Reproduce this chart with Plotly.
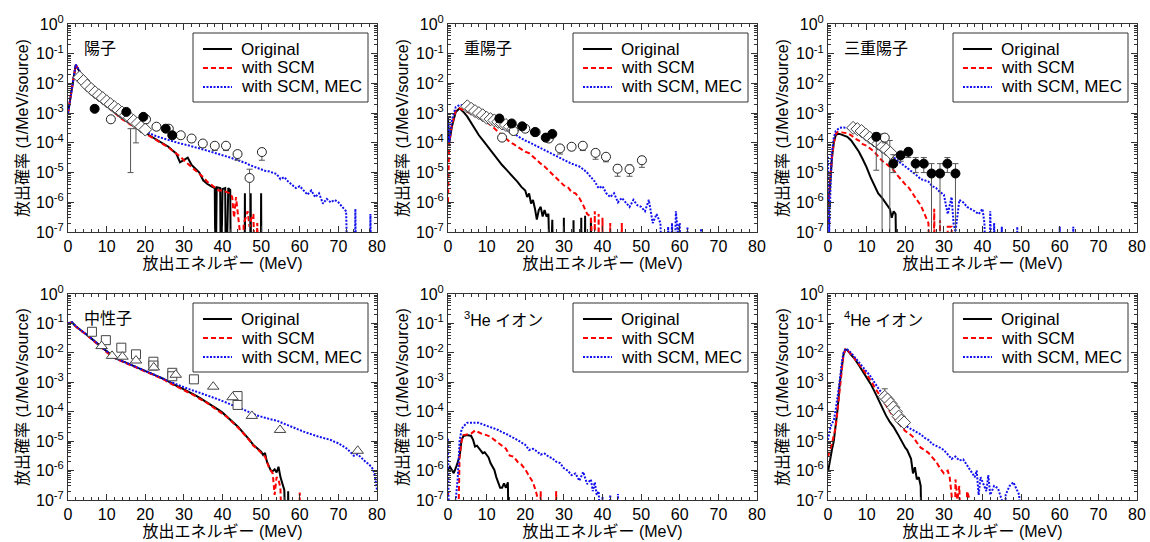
import plotly.graph_objects as go

# ---------------- data (energy MeV, probability 1/MeV/source) ----------------
proton_original = [(0,1.0e-3),(1,7.7e-3),(2,4.2e-2),(3,2.5e-2),(4,1.3e-2),(5,8.1e-3),(6,5.6e-3),(7,4.1e-3),(8,3.0e-3),(9,2.3e-3),(10,1.7e-3),(11,1.4e-3),(12,1.1e-3),(13,8.5e-4),(14,6.6e-4),(15,5.5e-4),(16,4.5e-4),(17,3.7e-4),(18,3.2e-4),(19,2.7e-4),(20,2.3e-4),(21,1.8e-4),(22,1.5e-4),(23,1.3e-4),(24,1.07e-4),(25,8.7e-5),(26,7.4e-5),(27,5.6e-5),(28,4.4e-5),(29,2.2e-5),(30,2.6e-5),(31,3.2e-5),(32,1.8e-5),(33,1.3e-5),(34,1.0e-5),(35,5.5e-6),(36,4.2e-6),(37,3.5e-6),(38,3.0e-6),(38.2,1e-9),(38.5,3.2e-6),(39.4,3.0e-6),(39.6,1e-9),(40,2.8e-6),(40.7,3.0e-6),(40.9,1e-9),(41.5,3.0e-6),(42,2.6e-6),(42.2,1e-9),(45.7,1e-9),(45.8,2.0e-6),(45.9,1e-9),(47.2,1e-9),(47.3,2.0e-6),(47.4,1e-9),(49.9,1e-9),(50,2.0e-6),(50.1,1e-9)]
proton_scm = [(0,1.0e-3),(1,7.7e-3),(2,4.2e-2),(3,2.5e-2),(4,1.3e-2),(5,8.0e-3),(6,5.5e-3),(7,4.0e-3),(8,3.0e-3),(9,2.3e-3),(10,1.7e-3),(11,1.35e-3),(12,1.05e-3),(13,8.0e-4),(14,6.3e-4),(15,5.2e-4),(16,4.2e-4),(17,3.5e-4),(18,3.0e-4),(19,2.5e-4),(20,2.1e-4),(21,1.7e-4),(22,1.45e-4),(23,1.2e-4),(24,1.0e-4),(25,8.5e-5),(26,7.0e-5),(27,5.5e-5),(28,4.5e-5),(29,3.5e-5),(30,2.6e-5),(31,2.0e-5),(32,1.6e-5),(33,1.2e-5),(34,9.0e-6),(35,7.0e-6),(36,5.0e-6),(37,4.0e-6),(38,3.0e-6),(39,2.5e-6),(40,2.5e-6),(41,2.2e-6),(42,2.0e-6),(42.5,1.5e-6),(43,3e-7),(43.5,1.5e-6),(44,3e-7),(44.5,1e-7),(45,1e-9),(45.5,2e-7),(46,3e-7),(46.5,5e-7),(47,1.5e-7),(47.5,3e-7),(48,4e-7),(48.5,1e-9),(49,2e-7),(49.5,1e-9)]
proton_mec = [(0,1.0e-3),(1,8.0e-3),(2,4.3e-2),(3,2.6e-2),(4,1.35e-2),(5,8.3e-3),(6,5.7e-3),(7,4.2e-3),(8,3.1e-3),(9,2.4e-3),(10,1.8e-3),(11,1.45e-3),(12,1.15e-3),(13,9.0e-4),(14,7.0e-4),(15,5.8e-4),(16,4.8e-4),(17,4.0e-4),(18,3.4e-4),(19,2.9e-4),(20,2.5e-4),(21,2.1e-4),(22,1.85e-4),(23,1.65e-4),(24,1.5e-4),(25,1.35e-4),(26,1.25e-4),(27,1.15e-4),(28,1.05e-4),(29,9.5e-5),(30,9.0e-5),(31,8.2e-5),(32,7.5e-5),(33,7.0e-5),(34,6.5e-5),(35,6.0e-5),(36,5.5e-5),(37,5.0e-5),(38,4.5e-5),(39,4.0e-5),(40,3.7e-5),(41,3.5e-5),(42,3.2e-5),(43,2.9e-5),(44,2.6e-5),(45,2.3e-5),(46,2.1e-5),(47,1.8e-5),(48,1.6e-5),(49,1.4e-5),(50,1.25e-5),(51,1.15e-5),(52,1.1e-5),(53,1.0e-5),(54,9.0e-6),(55,6.0e-6),(56,7.0e-6),(57,5.0e-6),(58,4.0e-6),(59,3.0e-6),(60,3.5e-6),(61,2.5e-6),(62,1.8e-6),(63,2.5e-6),(64,1.5e-6),(65,2.0e-6),(66,9.0e-7),(67,1.3e-6),(68,1.0e-6),(69,1.2e-6),(70,1.0e-6),(71,7.0e-7),(72,5.0e-7),(72.5,1e-9),(74.2,1e-9),(74.4,6.0e-7),(74.6,1e-9),(78.1,1e-9),(78.3,4.0e-7),(78.5,1e-9)]
proton_diamonds = [(3,1.6e-2),(4,1.2e-2),(5,8.5e-3),(6,6.5e-3),(7,5.0e-3),(8,4.0e-3),(9,3.2e-3),(10,2.5e-3),(11,2.0e-3),(12,1.6e-3),(13,1.3e-3),(14,1.05e-3),(15,8.5e-4),(16,7.0e-4),(17,5.5e-4),(18,4.5e-4),(19,3.5e-4),(20,2.8e-4)]
proton_filled = [(6.9,1.4e-3),(15.1,1.1e-3),(19.5,7.5e-4),(25.3,3.0e-4),(27.0,1.8e-4)]
proton_open = [(11.1,6.2e-4,4.8e-4,7.5e-4),(20.2,6.2e-4,4.8e-4,7.5e-4),(22.9,3.5e-4,2.7e-4,4.3e-4),(26.1,3.0e-4,2.3e-4,3.7e-4),(29.2,1.8e-4,1.4e-4,2.2e-4),(32.0,1.4e-4,1.05e-4,1.7e-4),(34.9,9.5e-5,7.0e-5,1.15e-4),(38.0,8.0e-5,5.5e-5,1.0e-4),(40.9,8.0e-5,5.5e-5,1.0e-4),(43.9,4.2e-5,2.6e-5,5.5e-5),(47.0,6.6e-6,1e-9,1.3e-5),(50.2,4.9e-5,2.6e-5,6.5e-5)]
proton_bars = [(16.2,3.0e-4,1.0e-5,3.0e-4),(17.6,2.5e-4,1.0e-4,3.0e-4)]

deuteron_original = [(0,7.6e-4),(0.3,9.5e-5),(1,3.5e-4),(2,1.1e-3),(3,1.45e-3),(4,1.1e-3),(5,7.6e-4),(6,4.7e-4),(7,2.8e-4),(8,1.8e-4),(9,1.23e-4),(10,8.3e-5),(11,5.6e-5),(12,3.8e-5),(13,2.6e-5),(14,1.8e-5),(15,1.3e-5),(16,9.3e-6),(17,7.1e-6),(18,4.9e-6),(19,3.3e-6),(20,2.5e-6),(20.5,1.5e-6),(21,2.0e-6),(21.5,9.0e-7),(22,1.2e-6),(22.5,6.2e-7),(23,2.6e-7),(23.5,5.5e-7),(24,7.0e-7),(24.5,3.3e-7),(25,5.5e-7),(25.5,3.3e-7),(26,4.1e-7),(26.5,1e-9),(27,2.6e-7),(27.3,1e-9),(29.9,1e-9),(30,3.0e-7),(30.1,1e-9),(32.4,1e-9),(32.5,2.5e-7),(32.6,1e-9),(34.4,1e-9),(34.5,3.0e-7),(34.6,1e-9),(35.4,1e-9),(35.5,3.5e-7),(35.6,1e-9),(36.9,1e-9),(37,3.0e-7),(37.1,1e-9)]
deuteron_scm = [(0,1e-6),(0.3,1e-4),(1,4e-4),(2,1.2e-3),(3,1.45e-3),(4,1.3e-3),(5,1.1e-3),(6,9.5e-4),(7,8.5e-4),(8,7.2e-4),(9,6.0e-4),(10,5.1e-4),(11,4.0e-4),(12,3.0e-4),(13,2.4e-4),(14,1.8e-4),(15,1.4e-4),(16,1.07e-4),(17,9e-5),(18,7.4e-5),(19,6e-5),(20,5e-5),(21,4.5e-5),(22,3.4e-5),(23,2.6e-5),(24,2e-5),(25,1.6e-5),(26,1.2e-5),(27,9e-6),(28,6.3e-6),(29,4.8e-6),(30,3.7e-6),(31,3.3e-6),(32,2.2e-6),(33,2.0e-6),(34,1.4e-6),(35,8e-7),(36,4.1e-7),(37,3.2e-7),(37.3,1e-9),(37.9,1e-9),(38,5e-7),(38.1,1e-9),(38.9,1e-9),(39,4e-7),(39.1,1e-9),(39.9,1e-9),(40,3e-7),(40.1,1e-9),(41.9,1e-9),(42,2e-7),(42.1,1e-9),(44.9,1e-9),(45,2e-7),(45.1,1e-9)]
deuteron_mec = [(0,6.6e-4),(0.3,1e-4),(1,6e-4),(2,1.6e-3),(3,1.9e-3),(4,1.8e-3),(5,1.5e-3),(6,1.3e-3),(7,1.1e-3),(8,9e-4),(9,7.5e-4),(10,6e-4),(11,5e-4),(12,4.3e-4),(13,3.6e-4),(14,3.2e-4),(15,2.8e-4),(16,2.4e-4),(17,2.1e-4),(18,1.7e-4),(19,1.4e-4),(20,1.2e-4),(21,1.05e-4),(22,9e-5),(23,7.5e-5),(24,6.5e-5),(25,5.5e-5),(26,4.8e-5),(27,4e-5),(28,3.5e-5),(29,3e-5),(30,2.6e-5),(31,2.3e-5),(32,2e-5),(33,1.8e-5),(34,1.6e-5),(35,1.3e-5),(36,1e-5),(37,7e-6),(38,5e-6),(39,3e-6),(40,3.5e-6),(41,2e-6),(42,1.5e-6),(43,2e-6),(44,1e-6),(45,1.4e-6),(46,1e-6),(47,7e-7),(48,1.2e-6),(49,8e-7),(50,7e-7),(51,5e-7),(52,1.2e-6),(53,2e-7),(54,4e-7),(55,2e-7),(55.5,1e-9),(56.5,1e-9),(57,1.5e-7),(57.5,1e-9),(58,2e-7),(58.5,1e-9),(59,5e-7),(59.5,1e-7),(60,2e-7),(60.3,1e-9),(61.9,1e-9),(62,1.5e-7),(62.1,1e-9),(65.4,1e-9),(65.5,1.3e-7),(65.6,1e-9)]
deuteron_diamonds = [(5,1.7e-3),(6,1.4e-3),(7,1.17e-3),(8,1.0e-3),(9,8.5e-4),(10,7.0e-4),(11,6.3e-4),(12,5.7e-4),(13,5.1e-4),(14,4.5e-4),(15,4.0e-4),(16,3.5e-4),(17,3.0e-4)]
deuteron_filled = [(13.3,6.6e-4),(16.5,4.5e-4),(19.2,3.6e-4),(22.5,2.3e-4),(25.3,1.5e-4),(27.0,2.0e-4)]
deuteron_open = [(14.0,1.5e-4,1.2e-4,1.8e-4),(17.0,2.5e-4,2.0e-4,3.0e-4),(20.0,3.0e-4,2.4e-4,3.6e-4),(22.7,2.3e-4,1.8e-4,2.8e-4),(26.1,1.4e-4,1.1e-4,1.7e-4),(29.0,6.5e-5,4.2e-5,8.0e-5),(32.0,7.4e-5,5.5e-5,9.0e-5),(34.9,8.0e-5,5.5e-5,1.0e-4),(38.2,4.6e-5,2.8e-5,5.8e-5),(40.9,3.4e-5,2.3e-5,4.3e-5),(43.9,1.35e-5,7.5e-6,1.8e-5),(47.0,1.3e-5,7.5e-6,1.8e-5),(50.2,2.6e-5,1.5e-5,3.5e-5)]

triton_original = [(0,1e-6),(0.5,3e-6),(1,3e-5),(1.5,1e-4),(2,1.8e-4),(2.5,2.0e-4),(3,2.0e-4),(4,1.8e-4),(5,1.6e-4),(6,1.2e-4),(7,8e-5),(8,5e-5),(9,2.8e-5),(10,1.5e-5),(11,7e-6),(12,3.5e-6),(13,2e-6),(14,1.4e-6),(15,9e-7),(16,6e-7),(16.5,3e-7),(17,5e-7),(17.5,4e-7),(17.8,1e-9)]
triton_scm = [(0,2e-7),(0.5,5e-6),(1,3e-5),(1.5,1e-4),(2,2e-4),(2.5,2.3e-4),(3,2.3e-4),(4,2.2e-4),(5,2.1e-4),(6,1.8e-4),(7,1.4e-4),(8,1.2e-4),(9,9e-5),(10,8e-5),(11,6.5e-5),(12,5e-5),(13,3.5e-5),(14,2.5e-5),(15,2e-5),(16,1.5e-5),(17,1.2e-5),(18,8e-6),(19,5.5e-6),(20,4e-6),(21,3e-6),(22,1.8e-6),(23,1.2e-6),(24,8e-7),(25,4e-7),(26,2e-7),(26.5,1e-9),(27.3,1e-9),(27.5,6e-7),(27.7,1e-9),(28.9,1e-9),(29,2.5e-7),(29.1,1e-9),(30.9,1e-9),(31,1.5e-7),(32,1.5e-7),(32.2,1e-9)]
triton_mec = [(0,3.4e-5),(0.3,1e-7),(0.7,5e-6),(1,5e-5),(1.5,1.5e-4),(2,2.5e-4),(3,3.2e-4),(4,3.3e-4),(5,3.2e-4),(6,2.8e-4),(7,2.4e-4),(8,2e-4),(9,1.6e-4),(10,1.3e-4),(11,1.05e-4),(12,8.5e-5),(13,6.5e-5),(14,5e-5),(15,4.5e-5),(16,4e-5),(17,3.3e-5),(18,2.5e-5),(19,2e-5),(20,1.6e-5),(21,1.3e-5),(22,1e-5),(23,8e-6),(24,6e-6),(25,5.5e-6),(26,5e-6),(27,3.5e-6),(28,3e-6),(29,2.2e-6),(30,1.8e-6),(31,4e-7),(32,1.5e-6),(32.5,2e-7),(33,1e-7),(34,1.2e-6),(35,1e-6),(36,7e-7),(37,6e-7),(38,5e-7),(39,4e-7),(40,6e-7),(40.5,2e-7),(41,1e-9),(41.8,1e-9),(42,5e-7),(42.5,1e-9),(42.8,1e-9),(43,2e-7),(43.5,1e-9),(44.9,1e-9),(45,1.5e-7),(45.1,1e-9),(48.9,1e-9),(49,1.5e-7),(49.1,1e-9),(59.9,1e-9),(60,1.5e-7),(60.1,1e-9),(63.4,1e-9),(63.5,1.5e-7),(63.6,1e-9)]
triton_diamonds = [(6.5,3.2e-4),(7.6,2.9e-4),(8.7,2.5e-4),(9.8,1.9e-4),(10.8,1.5e-4),(11.9,1.2e-4),(13.0,9.4e-5),(14.1,7.4e-5),(15.1,6.0e-5),(16.2,4.6e-5)]
triton_filled = [(12.5,1.6e-4,1.2e-5,2.2e-4),(16.9,2.0e-5,1.0e-5,4.0e-5),(18.8,3.8e-5,2.4e-5,5.0e-5),(20.8,5.0e-5,3.2e-5,6.5e-5),(22.7,2.0e-5,1.0e-5,3.2e-5),(24.8,2.0e-5,1.0e-5,3.2e-5),(26.8,9.3e-6,1e-9,2.0e-5),(29.0,9.3e-6,1e-9,2.0e-5),(30.9,2.0e-5,1.0e-5,3.2e-5),(33.0,9.3e-6,1e-9,2.0e-5)]
triton_open = [(14.7,1.5e-4,1.0e-4,1.9e-4)]
triton_bars = [(14.0,2.0e-4,1e-9,2.0e-4),(16.0,1.2e-4,1e-9,1.2e-4)]

neutron_original = [(0,0.1),(1,0.11),(2,8e-2),(3,6.5e-2),(4,5e-2),(5,4e-2),(6,3.1e-2),(7,2.4e-2),(8,1.85e-2),(9,1.4e-2),(10,1.1e-2),(11,8.5e-3),(12,6.9e-3),(13,6e-3),(14,5.3e-3),(15,4.7e-3),(16,4.1e-3),(17,3.6e-3),(18,3.1e-3),(19,2.7e-3),(20,2.4e-3),(21,2.15e-3),(22,1.9e-3),(23,1.65e-3),(24,1.45e-3),(25,1.25e-3),(26,1.05e-3),(27,9e-4),(28,7.7e-4),(29,6.7e-4),(30,5.8e-4),(31,5e-4),(32,4.2e-4),(33,3.6e-4),(34,3e-4),(35,2.5e-4),(36,2.1e-4),(37,1.7e-4),(38,1.4e-4),(39,1.15e-4),(40,9.3e-5),(41,7.2e-5),(42,5.5e-5),(43,4.2e-5),(44,3.1e-5),(45,2.2e-5),(46,1.6e-5),(47,1.1e-5),(48,7.4e-6),(49,5.8e-6),(50,4.4e-6),(50.5,3.4e-6),(51,4.0e-6),(51.5,2.0e-6),(52,1.35e-6),(52.5,1.0e-6),(53,9.5e-7),(53.5,1.1e-6),(54,8.6e-7),(54.5,1.35e-6),(55,6e-7),(55.5,3.7e-7),(56,2.2e-7),(56.5,1e-9),(56.9,1e-9),(57,2e-7),(57.2,1e-9)]
neutron_scm = [(0,0.1),(1,0.105),(2,7.8e-2),(3,6.3e-2),(4,4.9e-2),(5,3.9e-2),(6,3.0e-2),(7,2.3e-2),(8,1.8e-2),(9,1.35e-2),(10,1.05e-2),(11,8.2e-3),(12,6.7e-3),(13,5.8e-3),(14,5.1e-3),(15,4.5e-3),(16,3.9e-3),(17,3.5e-3),(18,3.0e-3),(19,2.6e-3),(20,2.3e-3),(21,2.05e-3),(22,1.8e-3),(23,1.6e-3),(24,1.4e-3),(25,1.2e-3),(26,1.0e-3),(27,8.6e-4),(28,7.4e-4),(29,6.4e-4),(30,5.5e-4),(31,4.7e-4),(32,4.0e-4),(33,3.4e-4),(34,2.8e-4),(35,2.4e-4),(36,2.0e-4),(37,1.6e-4),(38,1.3e-4),(39,1.1e-4),(40,8.8e-5),(41,6.9e-5),(42,5.2e-5),(43,4.0e-5),(44,2.9e-5),(45,2.1e-5),(46,1.5e-5),(47,1.05e-5),(48,7.0e-6),(49,5.5e-6),(50,4.0e-6),(51,3.0e-6),(52,1.3e-6),(53,8e-7),(53.5,1.5e-7),(54,6e-7),(54.5,5e-7),(55,2.5e-7),(55.5,1e-9),(59.9,1e-9),(60,1.8e-7),(60.1,1e-9)]
neutron_mec = [(0,0.1),(1,0.11),(2,8e-2),(3,6.5e-2),(4,5e-2),(5,4e-2),(6,3.1e-2),(7,2.4e-2),(8,1.85e-2),(9,1.4e-2),(10,1.1e-2),(11,8.5e-3),(12,6.9e-3),(13,6e-3),(14,5.3e-3),(15,4.7e-3),(16,4.1e-3),(17,3.6e-3),(18,3.1e-3),(19,2.7e-3),(20,2.4e-3),(21,2.15e-3),(22,1.9e-3),(23,1.65e-3),(24,1.45e-3),(25,1.25e-3),(26,1.1e-3),(27,9.5e-4),(28,8.3e-4),(29,7.5e-4),(30,6.8e-4),(31,6.1e-4),(32,5.5e-4),(33,5.0e-4),(34,4.6e-4),(35,4.1e-4),(36,3.7e-4),(37,3.3e-4),(38,3.0e-4),(39,2.6e-4),(40,2.3e-4),(41,2.0e-4),(42,1.8e-4),(43,1.6e-4),(44,1.4e-4),(45,1.25e-4),(46,1.1e-4),(47,9.5e-5),(48,8.1e-5),(49,7.4e-5),(50,6.8e-5),(51,6.2e-5),(52,5.6e-5),(53,5.3e-5),(54,5.0e-5),(55,4.4e-5),(56,3.8e-5),(57,3.4e-5),(58,3.0e-5),(59,2.7e-5),(60,2.4e-5),(61,2.1e-5),(62,1.9e-5),(63,1.7e-5),(64,1.6e-5),(65,1.4e-5),(66,1.3e-5),(67,1.2e-5),(68,1.1e-5),(69,9.5e-6),(70,8.5e-6),(71,7e-6),(72,5.8e-6),(73,4.4e-6),(74,3.2e-6),(75,3.6e-6),(76,2.6e-6),(77,2.0e-6),(78,1.6e-6),(79,1.1e-6),(79.5,6e-7),(80,2.2e-7)]
neutron_squares = [(6.2,5.2e-2),(9.8,2.7e-2),(13.8,1.5e-2),(17.6,8.9e-3),(22.1,5.0e-3),(22.1,3.7e-3),(27.0,2.1e-3),(27.0,1.6e-3),(32.6,1.26e-3),(43.9,3.4e-4),(43.9,1.7e-4)]
neutron_triangles = [(8.7,1.7e-2),(11.4,7.9e-3),(14.1,7.4e-3),(17.6,5.5e-3),(22.2,3.2e-3),(27.9,1.8e-3),(37.6,7.1e-4),(42.6,3.1e-4),(47.6,7.2e-5),(54.9,2.4e-5),(75.0,4.7e-6)]

he3_original = [(0,1.05e-6),(0.5,1.35e-6),(1,1.05e-6),(1.5,8.2e-7),(2,1.2e-6),(2.5,1.8e-6),(3,3e-6),(3.5,1.1e-5),(4,1.5e-5),(5,1.6e-5),(6,1.5e-5),(6.5,1.1e-5),(7,6.5e-6),(7.5,7e-6),(8,5.7e-6),(8.5,5e-6),(9,3.9e-6),(9.5,4.2e-6),(10,3.4e-6),(10.5,2.8e-6),(11,1.8e-6),(11.5,1.4e-6),(12,1.05e-6),(12.5,6e-7),(13,3.7e-7),(13.5,2.6e-7),(14,2.6e-7),(14.5,3.7e-7),(15,2.6e-7),(15.5,4e-7),(15.8,1e-9)]
he3_scm = [(0,2e-7),(0.3,1e-9),(2.5,1e-9),(2.8,3e-7),(3,3e-6),(3.5,1e-5),(4,1.6e-5),(5,1.7e-5),(6,1.8e-5),(7,2.3e-5),(8,2e-5),(9,1.7e-5),(10,1.6e-5),(11,1.4e-5),(12,1.1e-5),(13,9e-6),(14,7e-6),(15,5.5e-6),(16,3.2e-6),(17,3e-6),(18,2e-6),(19,1.6e-6),(20,1.1e-6),(21,6.5e-7),(22,4e-7),(22.5,2.5e-7),(23,1.5e-7),(23.5,1e-9),(23.8,1e-9),(24,2e-7),(24.3,1e-9),(27.8,1e-9),(28,2e-7),(28.3,1e-9)]
he3_mec = [(0,1.2e-5),(0.3,1e-9),(1.5,1e-9),(2,1e-7),(2.5,5e-7),(3,1e-5),(3.5,2.5e-5),(4,3.2e-5),(5,4.2e-5),(6,4.2e-5),(7,4.3e-5),(8,4.2e-5),(9,3.7e-5),(10,3.3e-5),(11,3e-5),(12,2.7e-5),(13,2.4e-5),(14,2e-5),(15,1.8e-5),(16,1.5e-5),(17,1.3e-5),(18,1.1e-5),(19,9e-6),(20,7.5e-6),(21,5e-6),(22,5.5e-6),(23,4.5e-6),(24,3.5e-6),(25,3.8e-6),(26,3e-6),(27,2.6e-6),(28,2e-6),(29,1.8e-6),(30,1.2e-6),(31,1e-6),(32,7e-7),(33,8e-7),(34,4.5e-7),(35,9e-7),(36,3.5e-7),(37,5e-7),(37.5,2e-7),(38,4e-7),(38.5,1.5e-7),(39,2e-7),(39.5,1e-9),(39.9,1e-9),(40,1.3e-7),(40.3,1e-9),(41.9,1e-9),(42,1.5e-7),(42.3,1e-9),(43.9,1e-9),(44,1.6e-7),(44.3,1e-9)]

he4_original = [(0,9e-7),(0.5,2.5e-6),(1,5e-6),(1.5,1e-5),(2,3e-5),(2.5,1.3e-4),(3,8e-4),(3.5,3e-3),(4,8.5e-3),(4.5,1.3e-2),(5,1.25e-2),(6,8.5e-3),(7,6e-3),(8,3.8e-3),(9,2.4e-3),(10,1.5e-3),(11,9e-4),(12,5e-4),(13,2.6e-4),(14,1.4e-4),(15,7.5e-5),(16,4.5e-5),(17,3e-5),(18,1.8e-5),(19,1e-5),(19.5,8e-6),(20,6e-6),(20.5,5e-6),(21,3.5e-6),(21.5,2.5e-6),(22,8e-7),(22.5,1.3e-6),(23,5e-7),(23.5,6e-7),(24,3e-7),(24.3,1e-9)]
he4_scm = [(0,3e-6),(1,8e-6),(2,3e-5),(2.5,1.2e-4),(3,7e-4),(3.5,3e-3),(4,8.5e-3),(4.5,1.3e-2),(5,1.25e-2),(6,9e-3),(7,6.2e-3),(8,4.2e-3),(9,2.8e-3),(10,1.8e-3),(11,1.2e-3),(12,7e-4),(13,4.3e-4),(14,2.6e-4),(15,1.6e-4),(16,9.5e-5),(17,6.5e-5),(18,4.5e-5),(19,3e-5),(20,2.2e-5),(21,1.8e-5),(22,1.4e-5),(23,9e-6),(24,6e-6),(25,5e-6),(26,4e-6),(27,2.8e-6),(28,2e-6),(29,1.2e-6),(30,8e-7),(31,1e-6),(31.5,6e-7),(32,1.5e-7),(32.5,1e-9),(32.8,1e-9),(33,5e-7),(33.5,1e-7),(34,3e-7),(34.5,1e-9),(35.8,1e-9),(36,2e-7),(36.5,1.2e-7),(37,1e-9)]
he4_mec = [(0,1.1e-5),(0.5,2.5e-5),(1,4e-5),(1.5,5e-5),(2,1.2e-4),(2.5,3e-4),(3,1e-3),(3.5,4e-3),(4,1e-2),(4.5,1.35e-2),(5,1.3e-2),(6,1e-2),(7,7e-3),(8,5e-3),(9,3.4e-3),(10,2.3e-3),(11,1.6e-3),(12,1e-3),(13,6.5e-4),(14,4e-4),(15,2.6e-4),(16,1.6e-4),(17,1.1e-4),(18,7e-5),(19,5e-5),(20,3.5e-5),(21,2.8e-5),(22,2.4e-5),(23,2e-5),(24,1.7e-5),(25,1.3e-5),(26,1.1e-5),(27,8e-6),(28,7e-6),(29,6e-6),(30,5e-6),(31,3.5e-6),(32,2.5e-6),(33,3e-6),(34,2.2e-6),(35,2.4e-6),(36,1.5e-6),(37,1e-6),(38,6e-7),(38.5,1e-6),(39,1.5e-7),(39.5,6e-7),(40,4e-7),(41,2e-7),(41.5,7e-7),(42,1.5e-7),(43,3e-7),(44,2.5e-7),(45,1e-7),(45.5,1e-9),(45.8,1e-9),(46,1.5e-7),(47,3e-7),(48,4e-7),(49,2e-7),(49.5,1.5e-7),(50,1e-9)]
he4_diamonds = [(14.7,3.2e-4,3.2e-4,6.0e-4),(15.4,2.6e-4,2.6e-4,2.6e-4),(16.2,1.9e-4,1.9e-4,1.9e-4),(16.9,1.4e-4,1.4e-4,1.4e-4),(17.6,1.0e-4,1.0e-4,1.0e-4),(18.3,6.8e-5,6.8e-5,6.8e-5),(19.0,5.0e-5,5.0e-5,5.0e-5),(19.7,4.3e-5,4.3e-5,4.3e-5)]

panel_labels = ["陽子", "重陽子", "三重陽子", "中性子", "<sup>3</sup>He イオン", "<sup>4</sup>He イオン"]
series_names = ["Original", "with SCM", "with SCM, MEC"]
x_tick_vals = [0, 10, 20, 30, 40, 50, 60, 70, 80]
y_exponents = [-7, -6, -5, -4, -3, -2, -1, 0]
x_title = "放出エネルギー (MeV)"
y_title = "放出確率 (1/MeV/source)"

# ---------------- figure ----------------
W, H = 1150, 542
FONT = "Arial, 'Liberation Sans', 'Noto Sans CJK JP', sans-serif"
LINE_STYLES = [dict(color="#000000", width=2, dash="solid"),
               dict(color="#FF0000", width=2, dash="5px,3px"),
               dict(color="#1010F0", width=2, dash="2px,1.5px")]
EDGE = "#444444"
AX = "#333333"

panels = [
    dict(curves=[proton_original, proton_scm, proton_mec],
         markers=[(proton_diamonds, "diamond", "white", EDGE, 10),
                  (proton_open, "circle", "white", "#222", 9),
                  (proton_filled, "circle", "black", "black", 9)],
         bars=[proton_bars]),
    dict(curves=[deuteron_original, deuteron_scm, deuteron_mec],
         markers=[(deuteron_diamonds, "diamond", "white", EDGE, 10),
                  (deuteron_open, "circle", "white", "#222", 9),
                  (deuteron_filled, "circle", "black", "black", 9)],
         bars=[]),
    dict(curves=[triton_original, triton_scm, triton_mec],
         markers=[(triton_diamonds, "diamond", "white", EDGE, 10),
                  (triton_open, "circle", "white", "#222", 9),
                  (triton_filled, "circle", "black", "black", 9)],
         bars=[triton_bars]),
    dict(curves=[neutron_original, neutron_scm, neutron_mec],
         markers=[(neutron_squares, "square", "white", EDGE, 9),
                  (neutron_triangles, "triangle-up", "white", EDGE, 10)],
         bars=[]),
    dict(curves=[he3_original, he3_scm, he3_mec], markers=[], bars=[]),
    dict(curves=[he4_original, he4_scm, he4_mec],
         markers=[(he4_diamonds, "diamond", "white", EDGE, 10)],
         bars=[]),
]

X_DOM = [(68, 377), (448, 757), (828, 1137)]
Y_DOM = [(24, 232), (294, 500)]

fig = go.Figure()
shapes, annotations = [], []
layout = dict(width=W, height=H, margin=dict(l=0, r=0, t=0, b=0, autoexpand=False),
              paper_bgcolor="white", plot_bgcolor="white", showlegend=False,
              font=dict(family=FONT, size=16, color="black"))

minor_y = [k * 10.0 ** e for e in range(-7, 0) for k in range(2, 10)]


def px_x(v):
    return v / W


def px_y(v):
    return 1 - v / H


def err_from(pts):
    if len(pts[0]) < 4:
        return None
    return dict(type="data", symmetric=False,
                array=[p[3] - p[1] for p in pts],
                arrayminus=[p[1] - p[2] for p in pts],
                color="#555555", thickness=1, width=3)


for i, pan in enumerate(panels):
    n = i + 1
    row, col = divmod(i, 3)
    xa = "x" if n == 1 else f"x{n}"
    ya = "y" if n == 1 else f"y{n}"
    for k, curve in enumerate(pan["curves"]):
        fig.add_trace(go.Scatter(
            x=[p[0] for p in curve], y=[p[1] for p in curve], mode="lines",
            name=series_names[k], line=LINE_STYLES[k], xaxis=xa, yaxis=ya,
            showlegend=False, hoverinfo="skip"))
    for bars in pan["bars"]:
        fig.add_trace(go.Scatter(
            x=[p[0] for p in bars], y=[p[1] for p in bars], mode="markers",
            marker=dict(size=1, color="rgba(0,0,0,0)"), error_y=err_from(bars),
            xaxis=xa, yaxis=ya, showlegend=False, hoverinfo="skip"))
    for pts, sym, fill, edge, size in pan["markers"]:
        fig.add_trace(go.Scatter(
            x=[p[0] for p in pts], y=[p[1] for p in pts], mode="markers",
            marker=dict(symbol=sym, size=size, color=fill, line=dict(color=edge, width=1)),
            error_y=err_from(pts), xaxis=xa, yaxis=ya, showlegend=False,
            hoverinfo="skip"))

    x0, x1 = X_DOM[col]
    y0, y1 = Y_DOM[row]
    axis_common = dict(showline=True, linecolor=AX, linewidth=1, mirror="ticks",
                       ticks="inside", ticklen=6, tickcolor=AX, showgrid=False,
                       zeroline=False, tickfont=dict(size=16), automargin=False)
    layout["xaxis" if n == 1 else f"xaxis{n}"] = dict(
        axis_common, domain=[px_x(x0), px_x(x1)], anchor=ya, range=[0, 80],
        tickvals=x_tick_vals, ticktext=[str(v) for v in x_tick_vals],
        minor=dict(dtick=2, ticks="inside", ticklen=3, tickcolor=AX, showgrid=False),
        title=dict(text=x_title, font=dict(size=16), standoff=0))
    layout["yaxis" if n == 1 else f"yaxis{n}"] = dict(
        axis_common, domain=[px_y(y1), px_y(y0)], anchor=xa, type="log",
        range=[-7, 0], tickvals=[10.0 ** e for e in y_exponents],
        ticktext=[f"10<sup>{e}</sup>" for e in y_exponents],
        minor=dict(tickvals=minor_y, ticks="inside", ticklen=3, tickcolor=AX, showgrid=False),
        title=dict(text=y_title, font=dict(size=16), standoff=3))

    # legend box (drawn per panel, top-right inside the frame)
    bx0, bx1, by0, by1 = x1 - 184, x1 - 9, y0 + 9, y0 + 78
    shapes.append(dict(type="rect", xref="paper", yref="paper",
                       x0=px_x(bx0), x1=px_x(bx1), y0=px_y(by1), y1=px_y(by0),
                       line=dict(color=AX, width=1), fillcolor="white", layer="above"))
    for k, name in enumerate(series_names):
        ry = y0 + 25 + 19 * k
        st = LINE_STYLES[k]
        shapes.append(dict(type="line", xref="paper", yref="paper",
                           x0=px_x(x1 - 174), x1=px_x(x1 - 145), y0=px_y(ry), y1=px_y(ry),
                           line=dict(color=st["color"], width=st["width"], dash=st["dash"]),
                           layer="above"))
        annotations.append(dict(text=name, xref="paper", yref="paper",
                                x=px_x(x1 - 138), y=px_y(ry), xanchor="left", yanchor="middle",
                                showarrow=False, font=dict(size=17)))
    annotations.append(dict(
        text=panel_labels[i], xref=f"{xa} domain", yref=f"{ya} domain",
        x=0.045, y=0.88, xanchor="left", yanchor="middle", showarrow=False,
        font=dict(size=16)))

layout["shapes"] = shapes
layout["annotations"] = annotations
fig.update_layout(**layout)
# remove the default 8px page margin so the figure fills the 1150x542 window exactly
fig.write_html("out.html", config={"displayModeBar": False},
               post_script="document.body.style.margin='0';document.body.style.overflow='hidden';")
